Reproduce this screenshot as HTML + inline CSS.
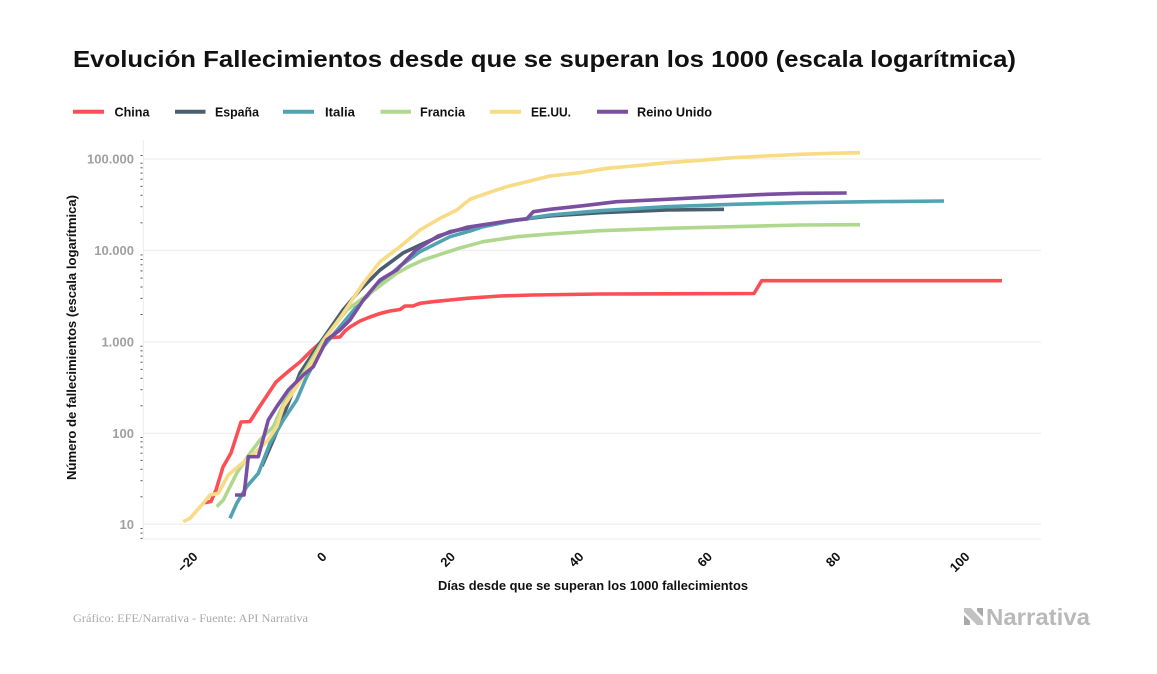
<!DOCTYPE html>
<html lang="es">
<head>
<meta charset="utf-8">
<title>Evolución Fallecimientos</title>
<style>
  html,body{margin:0;padding:0;background:#fff;}
  svg{display:block;}
  text{font-family:"Liberation Sans",sans-serif;}
</style>
</head>
<body>
<svg width="1157" height="674" viewBox="0 0 1157 674" xmlns="http://www.w3.org/2000/svg">
  <rect x="0" y="0" width="1157" height="674" fill="#ffffff"/>

  <!-- Title -->
  <text x="73" y="67" font-size="23.5" font-weight="bold" fill="#111" textLength="943" lengthAdjust="spacingAndGlyphs">Evolución Fallecimientos desde que se superan los 1000 (escala logarítmica)</text>

  <!-- Legend -->
  <g stroke-width="4" stroke-linecap="butt">
    <line x1="73" y1="111.7" x2="104" y2="111.7" stroke="#f94f55"/>
    <line x1="175" y1="111.7" x2="205.5" y2="111.7" stroke="#4b5e6e"/>
    <line x1="283" y1="111.7" x2="314" y2="111.7" stroke="#51a3b1"/>
    <line x1="380.5" y1="111.7" x2="411" y2="111.7" stroke="#afd88e"/>
    <line x1="490" y1="111.7" x2="521" y2="111.7" stroke="#f8db85"/>
    <line x1="597" y1="111.7" x2="628" y2="111.7" stroke="#7a4fa2"/>
  </g>
  <g font-size="13" font-weight="bold" fill="#111">
    <text x="114.5" y="116.5" textLength="35" lengthAdjust="spacingAndGlyphs">China</text>
    <text x="215" y="116.5" textLength="44" lengthAdjust="spacingAndGlyphs">España</text>
    <text x="325" y="116.5" textLength="30" lengthAdjust="spacingAndGlyphs">Italia</text>
    <text x="420" y="116.5" textLength="45" lengthAdjust="spacingAndGlyphs">Francia</text>
    <text x="531" y="116.5" textLength="40" lengthAdjust="spacingAndGlyphs">EE.UU.</text>
    <text x="637" y="116.5" textLength="75" lengthAdjust="spacingAndGlyphs">Reino Unido</text>
  </g>

  <!-- Gridlines -->
  <g stroke="#ebebeb" stroke-width="1">
    <line x1="143" y1="159" x2="1041" y2="159"/>
    <line x1="143" y1="250.3" x2="1041" y2="250.3"/>
    <line x1="143" y1="342" x2="1041" y2="342"/>
    <line x1="143" y1="433.3" x2="1041" y2="433.3"/>
    <line x1="143" y1="524.3" x2="1041" y2="524.3"/>
    <line x1="143" y1="539" x2="1041" y2="539"/>
    <line x1="143.3" y1="140" x2="143.3" y2="539"/>
  </g>

  <!-- Minor log ticks -->
  <g stroke="#555" stroke-width="1">
    <line x1="140.5" y1="528.5" x2="142.5" y2="528.5"/>
    <line x1="140.5" y1="533.1" x2="142.5" y2="533.1"/>
    <line x1="140.5" y1="538.4" x2="142.5" y2="538.4"/>
    <!-- decade 10-100 -->
    <line x1="140.5" y1="496.8" x2="142.5" y2="496.8"/>
    <line x1="140.5" y1="480.7" x2="142.5" y2="480.7"/>
    <line x1="140.5" y1="469.3" x2="142.5" y2="469.3"/>
    <line x1="140.5" y1="460.4" x2="142.5" y2="460.4"/>
    <line x1="140.5" y1="453.2" x2="142.5" y2="453.2"/>
    <line x1="140.5" y1="447.1" x2="142.5" y2="447.1"/>
    <line x1="140.5" y1="441.8" x2="142.5" y2="441.8"/>
    <line x1="140.5" y1="437.5" x2="142.5" y2="437.5"/>
    <!-- decade 100-1000 -->
    <line x1="140.5" y1="405.8" x2="142.5" y2="405.8"/>
    <line x1="140.5" y1="389.7" x2="142.5" y2="389.7"/>
    <line x1="140.5" y1="378.3" x2="142.5" y2="378.3"/>
    <line x1="140.5" y1="369.4" x2="142.5" y2="369.4"/>
    <line x1="140.5" y1="362.2" x2="142.5" y2="362.2"/>
    <line x1="140.5" y1="356.1" x2="142.5" y2="356.1"/>
    <line x1="140.5" y1="350.8" x2="142.5" y2="350.8"/>
    <line x1="140.5" y1="346.2" x2="142.5" y2="346.2"/>
    <!-- decade 1000-10000 -->
    <line x1="140.5" y1="314.5" x2="142.5" y2="314.5"/>
    <line x1="140.5" y1="298.4" x2="142.5" y2="298.4"/>
    <line x1="140.5" y1="287" x2="142.5" y2="287"/>
    <line x1="140.5" y1="278.1" x2="142.5" y2="278.1"/>
    <line x1="140.5" y1="270.9" x2="142.5" y2="270.9"/>
    <line x1="140.5" y1="264.8" x2="142.5" y2="264.8"/>
    <line x1="140.5" y1="259.5" x2="142.5" y2="259.5"/>
    <line x1="140.5" y1="254.9" x2="142.5" y2="254.9"/>
    <!-- decade 10000-100000 -->
    <line x1="140.5" y1="222.8" x2="142.5" y2="222.8"/>
    <line x1="140.5" y1="206.7" x2="142.5" y2="206.7"/>
    <line x1="140.5" y1="195.3" x2="142.5" y2="195.3"/>
    <line x1="140.5" y1="186.4" x2="142.5" y2="186.4"/>
    <line x1="140.5" y1="179.2" x2="142.5" y2="179.2"/>
    <line x1="140.5" y1="173.1" x2="142.5" y2="173.1"/>
    <line x1="140.5" y1="167.8" x2="142.5" y2="167.8"/>
    <line x1="140.5" y1="163.2" x2="142.5" y2="163.2"/>
    <line x1="140.5" y1="155.5" x2="142.5" y2="155.5"/>
  </g>

  <!-- Y tick labels -->
  <g font-size="13" font-weight="bold" fill="#a0a0a0" text-anchor="end">
    <text x="134" y="163.7">100.000</text>
    <text x="134" y="255">10.000</text>
    <text x="134" y="346.7">1.000</text>
    <text x="134" y="438">100</text>
    <text x="134" y="529">10</text>
  </g>

  <!-- Y axis title -->
  <text transform="translate(76,337.5) rotate(-90)" text-anchor="middle" font-size="13" font-weight="bold" fill="#111" textLength="285" lengthAdjust="spacingAndGlyphs">Número de fallecimientos (escala logarítmica)</text>

  <!-- X tick labels -->
  <g font-size="13" font-weight="bold" fill="#111" text-anchor="end">
    <text transform="translate(198.5,557.5) rotate(-45)">−20</text>
    <text transform="translate(327.5,557.5) rotate(-45)">0</text>
    <text transform="translate(456,557.5) rotate(-45)">20</text>
    <text transform="translate(584.5,557.5) rotate(-45)">40</text>
    <text transform="translate(713,557.5) rotate(-45)">60</text>
    <text transform="translate(841.5,557.5) rotate(-45)">80</text>
    <text transform="translate(970.5,557.5) rotate(-45)">100</text>
  </g>

  <!-- X axis title -->
  <text x="593" y="590" text-anchor="middle" font-size="13" font-weight="bold" fill="#111" textLength="310" lengthAdjust="spacingAndGlyphs">Días desde que se superan los 1000 fallecimientos</text>

  <!-- Series -->
  <g fill="none" stroke-width="3.6" stroke-linejoin="round" stroke-linecap="butt">
    <!-- China -->
    <polyline stroke="#f94f55" points="203,503 211,501.5 216,490 223,467 231,453 241,422 250,421.5 258,409 266,397 276,382 290,370 300,362 310,352 320,343 327,338 334,337.5 340,337 345,331 350,327 360,321 370,317 380,313.5 390,311 400,309.5 405,306 413,306 420,303.3 433,301.7 450,300 467,298.3 500,296 533,295 600,294 700,293.7 754,293.5 761.7,280.7 1002,280.7"/>
    <!-- España -->
    <polyline stroke="#4b5e6e" points="262,466 275,436 288,404 300,373 320,343 343,310 360,290 380,270 403,253 420,245 450,231.7 483,225 517,220 550,216 600,212.7 667,210 724,209.3"/>
    <!-- Italia -->
    <polyline stroke="#51a3b1" points="230,518.3 236.7,503.3 246.7,486.7 258.3,473.3 270,443.3 283.3,420 296.7,400 306.7,376.7 323.3,346.7 340,326.7 356.7,306.7 376.7,286.7 400,266 420,251.7 430,246.7 450,236.7 470,231 483,226.7 517,220 550,215 600,210.7 667,206.7 733,204.3 800,202.7 870,201.7 944,201"/>
    <!-- Francia -->
    <polyline stroke="#afd88e" points="216.7,506.7 223.3,500 236.7,473.3 250,453.3 260,440 273.3,426.7 286.7,396.7 303.3,373.3 323.3,340 346.7,310 370,293.3 396.7,273.3 410,266 423.3,260 443.3,253.3 460,248 483,241.7 517,236.7 550,234 600,230.7 667,228.3 733,226.7 800,225 860,224.7"/>
    <!-- EE.UU. -->
    <polyline stroke="#f8db85" points="183.3,521.7 190,518.3 200,507 210,495 218.3,493.3 228.3,475 240,465 258.3,450 268,440 276.7,426.7 283.3,406.7 296.7,386.7 313.3,360 326.7,336.7 343.3,313.3 363.3,283.3 380,261.7 400,246.7 420,230 440,218.3 456.7,210 470,199.3 486.7,193.3 506.7,186.7 526.7,181.7 550,176 580,172.7 606.7,168.3 633.3,166 666.7,162.7 700,160.3 733,157.7 766.7,156 800,154.3 830,153.3 860,152.7"/>
    <!-- Reino Unido -->
    <polyline stroke="#7a4fa2" points="235,495 244,495 248.3,456.7 258.3,456.7 268.3,420 276.7,406.7 288.3,390 303.3,375 313.3,366.7 326.7,340 340,330 350,320 363.3,300 380,280 396.7,270 416,250 438,236 466.7,227.3 493.3,223.3 510,220.7 526.7,219 533.3,211.7 550,209.3 583.3,205.7 616.7,201.7 666.7,199.3 716.7,196.7 766.7,194.3 800,193.3 846.7,193"/>
  </g>

  <!-- Footer -->
  <text x="73" y="622" font-family="Liberation Serif, serif" font-size="11.5" fill="#aaaaaa" textLength="235" lengthAdjust="spacingAndGlyphs" style="font-family:'Liberation Serif',serif">Gráfico: EFE/Narrativa - Fuente: API Narrativa</text>

  <!-- Logo -->
  <g>
    <polygon points="964,608 971,608 983,621 983,625 977,625 964,612" fill="#c2c2c2"/>
    <polygon points="977,608 983,608 983,617 977,611" fill="#a8a8a8"/>
    <polygon points="964,615 970,621 970,625 964,625" fill="#a8a8a8"/>
    <text x="986" y="625" font-size="23" font-weight="bold" fill="#b9b9b9" textLength="104" lengthAdjust="spacingAndGlyphs">Narrativa</text>
  </g>
</svg>
</body>
</html>
